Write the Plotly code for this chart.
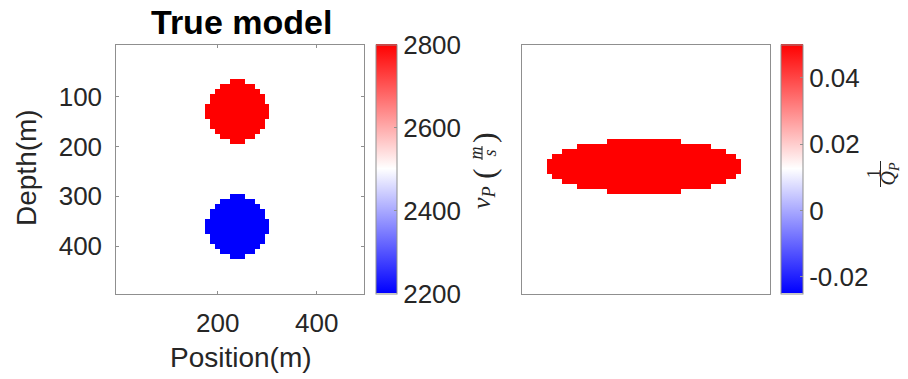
import numpy as np
import plotly.graph_objects as go

W, H = 908, 379

# ---------------- data ----------------
position_m = np.arange(0, 500, 10)      # cell centres, m
depth_m = np.arange(0, 500, 10)         # cell centres, m

vp_background = 2500
vp_high = 2800
vp_low = 2200
high_center = (240, 130)                # (position, depth) of red disc
low_center = (240, 360)                 # (position, depth) of blue disc
circle_row_halfwidths = [1, 3, 4, 5, 5, 6, 6, 6, 5, 5, 4, 3, 1]   # cells per row

invq_background = 0.0125
invq_anomaly = 0.05
ellipse_center = (240, 240)
ellipse_row_halfwidths = [7, 13, 16, 18, 19, 19, 19, 18, 16, 13, 7]

vp_range = [2200, 2800]
vp_ticks = [2200, 2400, 2600, 2800]
invq_range = [-0.025, 0.05]
invq_ticks = [-0.02, 0, 0.02, 0.04]
invq_ticktext = ["-0.02", "0", "0.02", "0.04"]
x_ticks = [200, 400]
y_ticks = [100, 200, 300, 400]


def paint(grid, center, halfwidths, value, cell=10):
    cx, cz = center
    ix0 = int(round(cx / cell))
    iz0 = int(round(cz / cell))
    n = len(halfwidths)
    for k, hw in enumerate(halfwidths):
        iz = iz0 - (n - 1) // 2 + k
        grid[iz, ix0 - hw: ix0 + hw + 1] = value
    return grid


vp = np.full((len(depth_m), len(position_m)), float(vp_background))
paint(vp, high_center, circle_row_halfwidths, vp_high)
paint(vp, low_center, circle_row_halfwidths, vp_low)

invq = np.full((len(depth_m), len(position_m)), float(invq_background))
paint(invq, ellipse_center, ellipse_row_halfwidths, invq_anomaly)

# ---------------- styling ----------------
FONT = "Liberation Sans, Arial, sans-serif"
SERIF = "Liberation Serif, Times New Roman, serif"
TXT = "#262626"
LINE = "#8f8f8f"
bwr = [[0.0, "rgb(0,0,255)"], [0.5, "rgb(255,255,255)"], [1.0, "rgb(255,0,0)"]]


def px(x):
    return x / W


def py(y):
    return 1 - y / H


top_px, bot_px = 44.5, 293.5

fig = go.Figure()
fig.add_trace(go.Heatmap(
    x=position_m, y=depth_m, z=vp, zmin=vp_range[0], zmax=vp_range[1],
    colorscale=bwr, xaxis="x", yaxis="y",
    colorbar=dict(
        x=px(375.7), xanchor="left", xpad=0, ypad=0,
        y=py(bot_px), yanchor="bottom", len=bot_px - top_px, lenmode="pixels",
        thickness=21, outlinecolor=LINE, outlinewidth=1,
        tickvals=vp_ticks, ticks="inside", ticklen=3, tickcolor=LINE,
        tickfont=dict(family=FONT, size=26, color=TXT),
    ),
))
fig.add_trace(go.Heatmap(
    x=position_m, y=depth_m, z=invq, zmin=invq_range[0], zmax=invq_range[1],
    colorscale=bwr, xaxis="x2", yaxis="y2",
    colorbar=dict(
        x=px(781), xanchor="left", xpad=0, ypad=0,
        y=py(bot_px), yanchor="bottom", len=bot_px - top_px, lenmode="pixels",
        thickness=22, outlinecolor=LINE, outlinewidth=1,
        tickvals=invq_ticks, ticktext=invq_ticktext, ticks="inside", ticklen=3,
        tickcolor=LINE, tickfont=dict(family=FONT, size=26, color=TXT),
    ),
))

axis_common = dict(showline=True, linecolor=LINE, linewidth=1, mirror="ticks",
                   showgrid=False, zeroline=False,
                   tickfont=dict(family=FONT, size=26, color=TXT))

fig.update_layout(
    width=W, height=H, margin=dict(l=0, r=0, t=0, b=0),
    paper_bgcolor="white", plot_bgcolor="white", showlegend=False,
    xaxis=dict(domain=[px(116.3), px(363.7)], range=[-5, 495], tickvals=x_ticks,
               ticks="inside", ticklen=3, tickcolor=LINE, ticklabelstandoff=6,
               automargin=False, **axis_common),
    yaxis=dict(domain=[py(bot_px), py(top_px)], range=[495, -5], tickvals=y_ticks,
               ticks="inside", ticklen=3, tickcolor=LINE, ticklabelstandoff=8,
               automargin=False, **axis_common),
    xaxis2=dict(domain=[px(522.3), px(770)], range=[-5, 495], showticklabels=False,
                ticks="", anchor="y2", automargin=False, **axis_common),
    yaxis2=dict(domain=[py(bot_px), py(top_px)], range=[495, -5], showticklabels=False,
                ticks="", anchor="x2", automargin=False, **axis_common),
)


def note(text, x, y, size, family=FONT, color=TXT, angle=0):
    return dict(text=text, x=px(x), y=py(y), xref="paper", yref="paper",
                xanchor="center", yanchor="middle", textangle=angle,
                showarrow=False, font=dict(family=family, size=size, color=color))


ann = [
    note("<b>True model</b>", 241, 22, 34, color="black"),
    note("Position(m)", 241, 357, 28),
    note("Depth(m)", 26, 168, 28, angle=-90),
    # v_P (m/s) colorbar label, rotated
    note("<i>v<sub>P</sub></i>", 483, 198, 26, SERIF, angle=-90),
    note("(", 484, 174, 32, SERIF, angle=-90),
    note("<i>m</i>", 475.5, 153, 18, SERIF, angle=-90),
    note("<i>s</i>", 489.5, 153, 18, SERIF, angle=-90),
    note(")", 484, 138, 32, SERIF, angle=-90),
    # 1/Q_P label
    note("1", 874, 174, 18, SERIF, angle=-90),
    note("<i>Q<sub>P</sub></i>", 888.5, 174, 20, SERIF, angle=-90),
]
fig.update_layout(annotations=ann)

fig.add_shape(type="line", xref="paper", yref="paper", x0=px(482), x1=px(482),
              y0=py(146), y1=py(160), line=dict(color=TXT, width=1))
fig.add_shape(type="line", xref="paper", yref="paper", x0=px(880.5), x1=px(880.5),
              y0=py(161), y1=py(187), line=dict(color=TXT, width=1))

fig.write_html("out.html", config={"displayModeBar": False},
               post_script="document.body.style.margin='0';")
